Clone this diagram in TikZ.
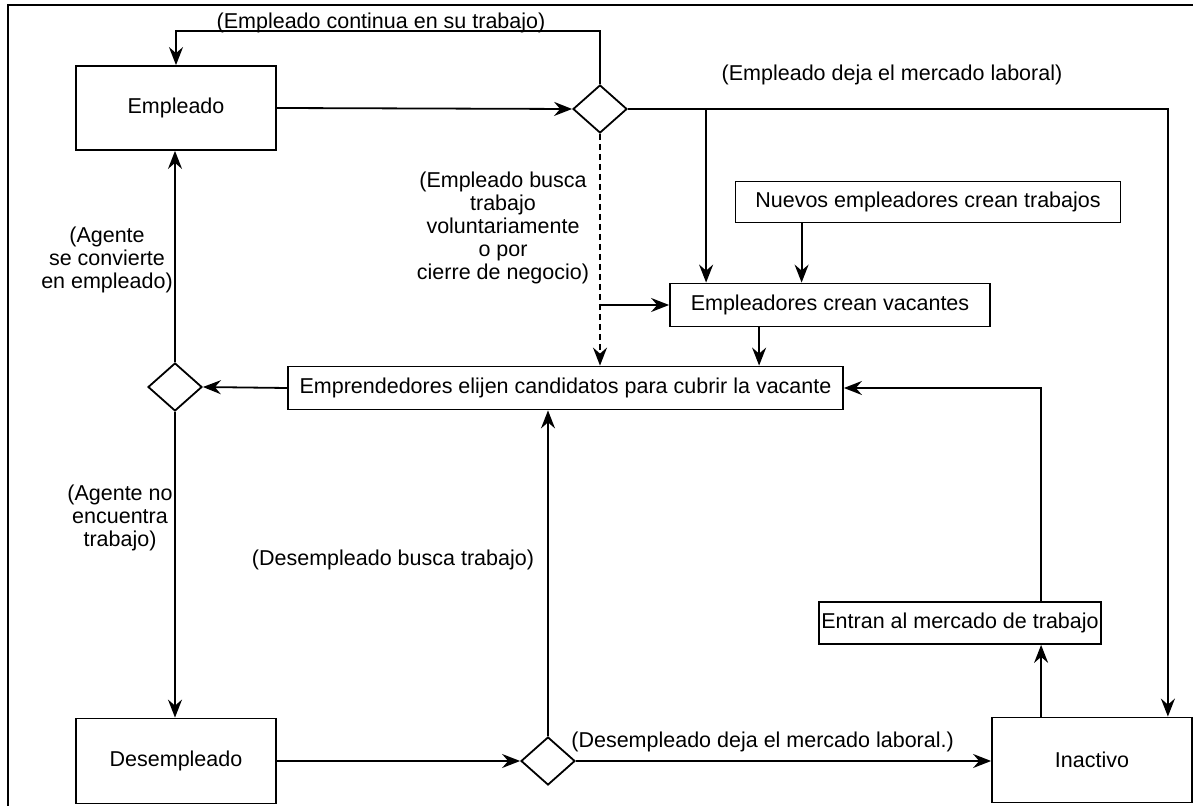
\documentclass[tikz,border=0pt]{standalone}
\usepackage{fontspec}
\setmainfont{Liberation Sans}
\usetikzlibrary{shapes.geometric,arrows.meta,calc}
\begin{document}
\begin{tikzpicture}[x=0.5pt,y=-0.5pt,
  every node/.style={font=\fontsize{10.75pt}{11.5pt}\selectfont},
  box/.style={draw,line width=0.9pt,inner sep=0pt,align=center},
  dia/.style={draw,line width=0.9pt,shape=diamond,inner sep=0pt,minimum width=27pt,minimum height=24pt},
  lbl/.style={inner sep=0pt,align=center},
  conn/.style={line width=0.9pt},
  arr/.style={conn,-{Stealth[length=9pt,width=7pt,inset=3pt]}},
  dsh/.style={dash pattern=on 3pt off 2pt}]
\useasboundingbox (0,0) rectangle (1193,806);
\draw[line width=1.4pt] (8,806) -- (8,5) -- (1193,5);

% boxes
\node[box,minimum width=100pt,minimum height=42pt] (emp) at (176,108) {Empleado};
\node[box,minimum width=100pt,minimum height=42.5pt] (des) at (176,761) {Desempleado};
\node[box,minimum width=100pt,minimum height=42.5pt] (ina) at (1092,760) {Inactivo};
\node[box,minimum width=192.5pt,minimum height=20.5pt] (nue) at (928,202) {Nuevos empleadores crean trabajos};
\node[box,minimum width=160pt,minimum height=21.5pt] (empl) at (830,305) {Empleadores crean vacantes};
\node[box,minimum width=277.5pt,minimum height=21.5pt] (empr) at (565.5,388) {Emprendedores elijen candidatos para cubrir la vacante};
\node[box,minimum width=141pt,minimum height=21pt] (ent) at (960,623) {Entran al mercado de trabajo};

% diamonds
\node[dia] (d1) at (600,109) {};
\node[dia] (d2) at (175,387) {};
\node[dia] (d3) at (548,761) {};

% helper coordinates
\coordinate (b1) at ($(empl.north west)+(37,0)$);
\coordinate (b2) at ($(nue.south west)+(67,0)$);
\coordinate (b3) at ($(empl.south west)+(90,0)$);
\coordinate (b4) at ($(ina.north west)+(50,0)$);
\coordinate (b5) at ($(ina.north east)+(-25,0)$);

% connectors
\draw[arr] (emp.east) -- (d1.west);
\draw[arr] (d1.north) -- ++(0,-53) -| (emp.north);
\draw[arr] (d1.east) -| (b5);
\draw[arr] (b1 |- d1.east) -- (b1);
\draw[arr,dsh] (d1.south) -- (d1.south |- empr.north);
\draw[arr] (d1.south |- empl.west) -- (empl.west);
\draw[arr] (b2) -- (b2 |- empl.north);
\draw[arr] (b3) -- (b3 |- empr.north);
\draw[arr] (empr.west) -- (d2.east);
\draw[arr] (d2.north) -- (d2.north |- emp.south);
\draw[arr] (d2.south) -- (d2.south |- des.north);
\draw[arr] (des.east |- d3.west) -- (d3.west);
\draw[arr] (d3.north) -- (d3.north |- empr.south);
\draw[arr] (d3.east) -- (d3.east -| ina.west);
\draw[arr] (b4) -- (b4 |- ent.south);
\draw[arr] (b4 |- ent.north) |- (empr.east);

% labels
\node[lbl] (l1) at (381,23) {(Empleado continua en su trabajo)};
\node[lbl] (l2) at (892,75) {(Empleado deja el mercado laboral)};
\node[lbl] (l3) at (503,228) {(Empleado busca\\trabajo\\voluntariamente\\o por\\cierre de negocio)};
\node[lbl] (l4) at (107,260) {(Agente\\se convierte\\en empleado)};
\node[lbl] (l5) at (120,518) {(Agente no\\encuentra\\trabajo)};
\node[lbl] (l6) at (393,560) {(Desempleado busca trabajo)};
\node[lbl,anchor=west] (l7) at (571,742) {(Desempleado deja el mercado laboral.)};
\end{tikzpicture}
\end{document}
